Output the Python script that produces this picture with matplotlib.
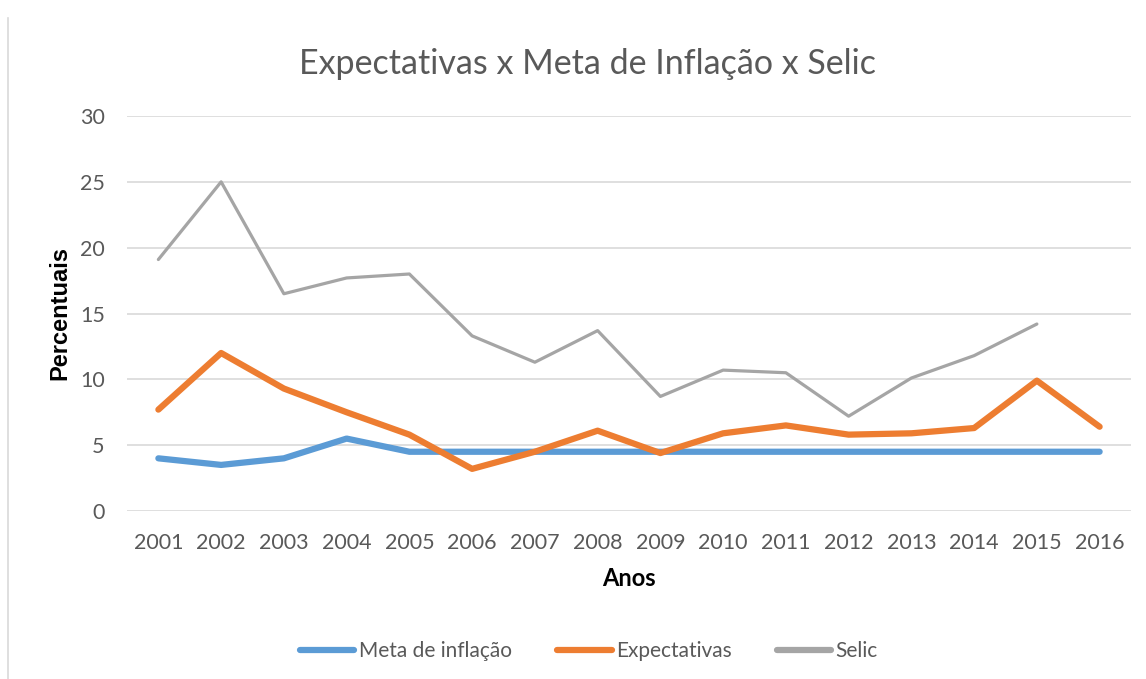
import numpy as np
import matplotlib
matplotlib.use('Agg')
import matplotlib.pyplot as plt
from matplotlib.lines import Line2D

anos = ['2001', '2002', '2003', '2004', '2005', '2006', '2007', '2008',
        '2009', '2010', '2011', '2012', '2013', '2014', '2015', '2016']
meta = [4.0, 3.5, 4.0, 5.5, 4.5, 4.5, 4.5, 4.5, 4.5, 4.5, 4.5, 4.5, 4.5, 4.5, 4.5, 4.5]
expectativas = [7.7, 12.0, 9.3, 7.5, 5.8, 3.2, 4.5, 6.1, 4.4, 5.9, 6.5, 5.8, 5.9, 6.3, 9.9, 6.4]
selic = [19.1, 25.0, 16.5, 17.7, 18.0, 13.3, 11.3, 13.7, 8.7, 10.7, 10.5, 7.2, 10.1, 11.8, 14.2, np.nan]

plt.rcParams['font.family'] = ['Lato', 'DejaVu Sans']
txt = '#595959'

fig = plt.figure(figsize=(11.46, 6.79), dpi=100)
ax = fig.add_axes([127 / 1146, 1 - 511 / 679, (1131 - 127) / 1146, (511 - 116) / 679])

x = np.arange(len(anos))
ax.plot(x, meta, color='#5b9bd5', lw=4.5, solid_capstyle='round', solid_joinstyle='round', label='Meta de inflação')
ax.plot(x, expectativas, color='#ed7d31', lw=4.5, solid_capstyle='round', solid_joinstyle='round', label='Expectativas')
ax.plot(x, selic, color='#a5a5a5', lw=2.3, solid_capstyle='round', solid_joinstyle='round', label='Selic')

ax.set_xlim(-0.5, len(anos) - 0.5)
ax.set_ylim(0, 30)
ax.set_yticks([0, 5, 10, 15, 20, 25, 30])
ax.set_xticks(x)
ax.set_xticklabels(anos)
ax.grid(axis='y', color='#d9d9d9', lw=1.2)
ax.set_axisbelow(True)
for s in ax.spines.values():
    s.set_visible(False)
ax.tick_params(length=0, labelsize=15.5, colors=txt)
ax.tick_params(axis='x', pad=16)
ax.tick_params(axis='y', pad=16)

ax.set_xlabel('Anos', fontsize=17, fontweight='bold', color='black', labelpad=10)
ax.set_ylabel('Percentuais', fontsize=17, fontweight='bold', color='black', labelpad=6,
              family=['Liberation Sans', 'DejaVu Sans'])
fig.text(0.513, 1 - 64 / 679, 'Expectativas x Meta de Inflação x Selic', ha='center', va='center',
         fontsize=24.5, color=txt)

handles = [Line2D([], [], color='#5b9bd5', lw=4.5, solid_capstyle='round'),
           Line2D([], [], color='#ed7d31', lw=4.5, solid_capstyle='round'),
           Line2D([], [], color='#a5a5a5', lw=4.5, solid_capstyle='round')]
fig.legend(handles, ['Meta de inflação', 'Expectativas', 'Selic'], loc='center',
           bbox_to_anchor=(0.514, 1 - 651 / 679), ncol=3, frameon=False, fontsize=15,
           labelcolor=txt, handlelength=2.6, handletextpad=0.2, columnspacing=2.2)

fig.add_artist(Line2D([8 / 1146, 8 / 1146], [0, 1 - 18 / 679], color='#d9d9d9', lw=1.2))

fig.savefig('out.png', dpi=100)
